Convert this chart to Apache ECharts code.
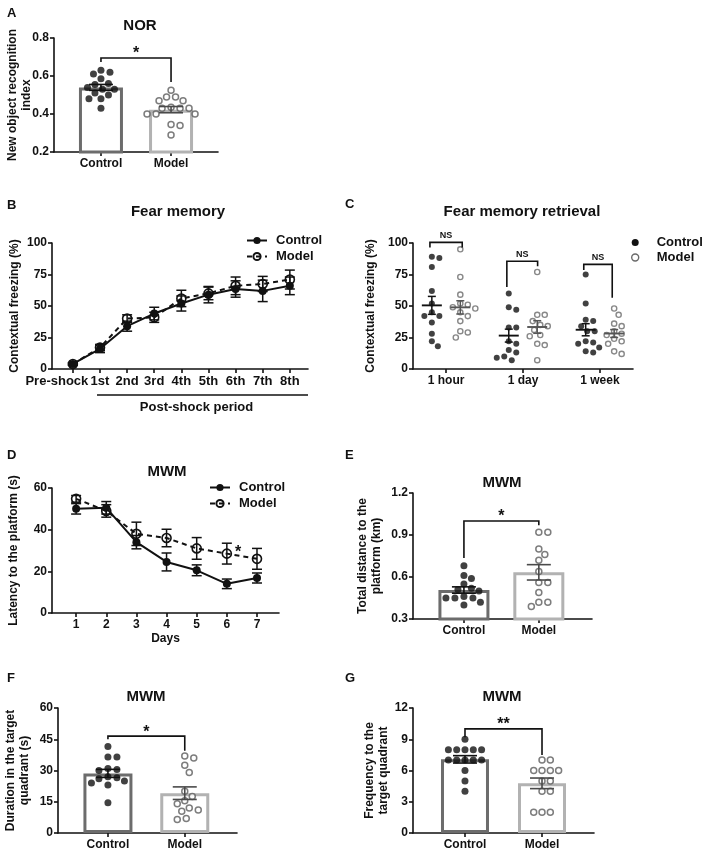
<!DOCTYPE html>
<html>
<head>
<meta charset="utf-8">
<script src="https://cdn.jsdelivr.net/npm/echarts@6.0.0/dist/echarts.min.js"></script>
<style>
  html, body { margin: 0; padding: 0; background: #fff; }
  #chart { width: 708px; height: 856px; }
</style>
</head>
<body>
<div id="chart"></div>
<script>
// ---- data ----
// A: novel object recognition
const groups = ['Control', 'Model'];
const norControl = [0.63, 0.62, 0.61, 0.585, 0.56, 0.555, 0.54, 0.53, 0.53, 0.51, 0.50, 0.48, 0.48, 0.43];
const norModel = [0.525, 0.49, 0.49, 0.47, 0.47, 0.435, 0.43, 0.43, 0.43, 0.40, 0.40, 0.40, 0.345, 0.34, 0.29];

// B: fear memory (mean, sem)
const fearPeriods = ['Pre-shock', '1st', '2nd', '3rd', '4th', '5th', '6th', '7th', '8th'];
const fearControl = [4, 16, 34, 44, 52, 59, 63.5, 62, 66];
const fearControlSem = [1, 3, 4, 5, 6, 6.5, 6.5, 8.5, 7];
const fearModel = [4, 17, 40, 41, 56, 60, 66, 67.5, 71];
const fearModelSem = [1, 2.5, 3, 4, 6.5, 5, 7, 6, 7.5];

// C: fear memory retrieval
const retrievalTimes = ['1 hour', '1 day', '1 week'];
const retHourControl = [88, 89, 81, 62, 52, 45, 42, 42, 37, 28, 22, 18];
const retHourModel = [95, 73, 59, 52, 51, 49, 48, 45, 42, 38, 30, 29, 25];
const retDayControl = [60, 49, 47, 33, 33, 22, 20, 15, 13, 10, 9, 7];
const retDayModel = [77, 43, 43, 38, 35, 34, 31, 27, 26, 20, 19, 7];
const retWeekControl = [75, 52, 39, 38, 34, 30, 30, 22, 21, 20, 17, 14, 13];
const retWeekModel = [48, 43, 36, 34, 30, 28, 27, 24, 22, 20, 14, 12];

// D: MWM latency (mean, sem)
const mwmDays = ['1', '2', '3', '4', '5', '6', '7'];
const latencyControl = [50, 50.5, 34, 24.5, 20.5, 14, 16.8];
const latencyControlSem = [2.5, 3, 3.2, 4.3, 2.6, 2.3, 2.4];
const latencyModel = [54.8, 49, 38, 36, 31, 28.5, 26];
const latencyModelSem = [1.6, 3, 5.6, 4.2, 5.2, 5, 5];

// E: total distance (km)
const distControl = [0.68, 0.61, 0.59, 0.55, 0.52, 0.51, 0.50, 0.46, 0.45, 0.45, 0.45, 0.42, 0.40];
const distModel = [0.92, 0.92, 0.80, 0.76, 0.72, 0.64, 0.56, 0.56, 0.49, 0.42, 0.42, 0.39];

// F: duration in target quadrant (s)
const durControl = [41.5, 36.5, 36.5, 31, 30.5, 30, 26, 27, 26.5, 25, 24, 23, 14.5];
const durModel = [37, 36, 32.5, 29, 20, 17.5, 15.5, 14, 12, 11, 10.5, 7, 6.5];

// G: frequency to target quadrant
const freqControl = [9, 8, 8, 8, 8, 8, 7, 7, 7, 7, 7, 6, 5, 4];
const freqModel = [7, 7, 6, 6, 6, 6, 5, 5, 4, 4, 2, 2, 2];

// ---- styling ----
const FONT = "'Liberation Sans', Arial, sans-serif";
const INK = '#111';
const CTRL_EDGE = '#6c6c6c';
const MODEL_EDGE = '#b2b2b2';
const MODEL_DOT = '#5c5c5c';

function mean(a) { return a.reduce((s, v) => s + v, 0) / a.length; }
function sem(a) {
  const m = mean(a);
  const sd = Math.sqrt(a.reduce((s, v) => s + (v - m) * (v - m), 0) / (a.length - 1));
  return sd / Math.sqrt(a.length);
}

// simple beeswarm: spread equal-ish values sideways so dots don't overlap
function swarm(values, center, pxX, pxY, diam, step) {
  const order = values.map((v, i) => i).sort((a, b) => values[b] - values[a]);
  const placed = [];
  const out = [];
  order.forEach(i => {
    const y = values[i] * pxY;
    for (let k = 0; k < 80; k++) {
      const off = k === 0 ? 0 : (k % 2 ? 1 : -1) * Math.ceil(k / 2) * step;
      if (placed.every(p => Math.hypot(p[0] - off, p[1] - y) >= diam)) {
        placed.push([off, y]);
        out.push([center + off / pxX, values[i]]);
        break;
      }
    }
  });
  return out;
}

// panel frames
const panels = {
  A: { grid: { left: 54, top: 38, width: 164, height: 114 }, x: [-0.67, 1.67], y: [0.2, 0.8, 0.2], yName: 'New object recognition\nindex', gap: 20, dec: 1 },
  B: { grid: { left: 52, top: 243, width: 256, height: 126 }, x: [-0.77, 8.67], y: [0, 100, 25], yName: 'Contextual freezing (%)', gap: 30, dec: 0 },
  C: { grid: { left: 413, top: 243, width: 220, height: 126 }, x: [-0.43, 2.43], y: [0, 100, 25], yName: 'Contextual freezing (%)', gap: 35, dec: 0 },
  D: { grid: { left: 52, top: 488, width: 227, height: 125 }, x: [0.2, 7.73], y: [0, 60, 20], yName: 'Latency to the platform (s)', gap: 31, dec: 0 },
  E: { grid: { left: 413, top: 493, width: 179, height: 126 }, x: [-0.68, 1.71], y: [0.3, 1.2, 0.3], yName: 'Total distance to the\nplatform (km)', gap: 29, dec: 1 },
  F: { grid: { left: 58, top: 708, width: 179, height: 125 }, x: [-0.65, 1.68], y: [0, 60, 15], yName: 'Duration in the target\nquadrant (s)', gap: 26, dec: 0 },
  G: { grid: { left: 413, top: 708, width: 181, height: 125 }, x: [-0.675, 1.675], y: [0, 12, 3], yName: 'Frequency to the\ntarget quadrant', gap: 22, dec: 0 }
};

const grid = [], xAxis = [], yAxis = [], series = [];
const lineStyle = { color: INK, width: 1.6 };
const labelFont = { color: INK, fontFamily: FONT, fontWeight: 'bold', fontSize: 12 };

function addPanel(key, tickLabels, tickPos, opts) {
  const p = panels[key];
  const gi = grid.length;
  p.gi = gi;
  p.pxX = p.grid.width / (p.x[1] - p.x[0]);
  p.pxY = p.grid.height / (p.y[1] - p.y[0]);
  grid.push(p.grid);
  xAxis.push({
    type: 'value', gridIndex: gi, min: p.x[0], max: p.x[1],
    axisLine: { show: true, onZero: false, lineStyle },
    axisTick: { show: true, length: 4, lineStyle, customValues: tickPos },
    axisLabel: Object.assign({ margin: 6, customValues: tickPos, showMinLabel: true, showMaxLabel: true,
      formatter: v => {
        const i = tickPos.findIndex(t => Math.abs(t - v) < 1e-6);
        if (i < 0) return '';
        return opts.firstShift && i === 0 ? '{shift|' + tickLabels[i] + '}' : tickLabels[i];
      },
      rich: { shift: Object.assign({}, labelFont, { fontSize: opts.xFont || 12, padding: [0, opts.firstShift || 0, 0, 0] }) }
    }, labelFont, { fontSize: opts.xFont || 12 }),
    splitLine: { show: false },
    name: opts.xName || '', nameLocation: 'middle', nameGap: 20, nameMoveOverlap: false,
    nameTextStyle: { color: INK, fontFamily: FONT, fontWeight: 'bold', fontSize: 12 }
  });
  yAxis.push({
    type: 'value', gridIndex: gi, min: p.y[0], max: p.y[1], interval: p.y[2],
    axisLine: { show: true, onZero: false, lineStyle },
    axisTick: { show: true, length: 4, lineStyle },
    axisLabel: Object.assign({ margin: 5, formatter: v => v.toFixed(p.dec) }, labelFont),
    splitLine: { show: false },
    name: p.yName, nameLocation: 'middle', nameRotate: 90, nameGap: p.gap, nameMoveOverlap: false,
    nameTextStyle: { color: INK, fontFamily: FONT, fontWeight: 'bold', fontSize: 12, lineHeight: 14 }
  });
  return p;
}

function errorBars(p, items, color, cap, meanHalf, lw, z) {
  return {
    type: 'custom', xAxisIndex: p.gi, yAxisIndex: p.gi, z: z, silent: true, data: items,
    renderItem(params, api) {
      const x = api.value(0), m = api.value(1), s = api.value(2);
      const t = api.coord([x, m + s]), b = api.coord([x, m - s]), c = api.coord([x, m]);
      const st = { stroke: color, lineWidth: lw };
      const ch = [
        { type: 'line', shape: { x1: t[0], y1: t[1], x2: b[0], y2: b[1] }, style: st },
        { type: 'line', shape: { x1: t[0] - cap, y1: t[1], x2: t[0] + cap, y2: t[1] }, style: st },
        { type: 'line', shape: { x1: b[0] - cap, y1: b[1], x2: b[0] + cap, y2: b[1] }, style: st }
      ];
      if (meanHalf) ch.push({ type: 'line', shape: { x1: c[0] - meanHalf, y1: c[1], x2: c[0] + meanHalf, y2: c[1] }, style: { stroke: color, lineWidth: lw + 0.4 } });
      return { type: 'group', children: ch };
    }
  };
}

// significance brackets: x-from, x-to, top, left leg end, right leg end (data units)
function bracketSeries(p, items, texts, fontSize) {
  return {
    type: 'custom', xAxisIndex: p.gi, yAxisIndex: p.gi, z: 6, silent: true, data: items,
    renderItem(params, api) {
      const a = api.coord([api.value(0), api.value(3)]);
      const b = api.coord([api.value(0), api.value(2)]);
      const c = api.coord([api.value(1), api.value(2)]);
      const d = api.coord([api.value(1), api.value(4)]);
      const txt = texts[params.dataIndex];
      const star = txt.indexOf('*') >= 0;
      return { type: 'group', children: [
        { type: 'polyline', shape: { points: [a, b, c, d] }, style: { stroke: INK, lineWidth: 1.6, fill: null } },
        { type: 'text', x: (b[0] + c[0]) / 2, y: star ? b[1] - fontSize * 0.75 : b[1] - 2,
          style: { text: txt, align: 'center', verticalAlign: star ? 'top' : 'bottom', fill: INK,
                   font: 'bold ' + fontSize + 'px ' + FONT } }
      ] };
    }
  };
}

function barPanel(key, ctrl, model, barW, diam, step) {
  const p = panels[key];
  series.push({
    type: 'bar', xAxisIndex: p.gi, yAxisIndex: p.gi, barWidth: barW, z: 1, silent: true,
    data: [
      { value: [0, mean(ctrl)], itemStyle: { color: '#fff', borderColor: CTRL_EDGE, borderWidth: 3 } },
      { value: [1, mean(model)], itemStyle: { color: '#fff', borderColor: MODEL_EDGE, borderWidth: 3 } }
    ]
  });
  series.push({
    type: 'scatter', xAxisIndex: p.gi, yAxisIndex: p.gi, z: 3, silent: true, symbolSize: 7,
    itemStyle: { color: INK }, data: swarm(ctrl, 0, p.pxX, p.pxY, diam, step)
  });
  series.push({
    type: 'scatter', xAxisIndex: p.gi, yAxisIndex: p.gi, z: 3, silent: true, symbolSize: 6,
    itemStyle: { color: '#fff', borderColor: MODEL_DOT, borderWidth: 1.5 }, data: swarm(model, 1, p.pxX, p.pxY, diam, step)
  });
  series.push(errorBars(p, [[0, mean(ctrl), sem(ctrl)]], INK, 12, 0, 1.6, 4));
  series.push(errorBars(p, [[1, mean(model), sem(model)]], '#4a4a4a', 12, 0, 1.6, 4));
}

// ---- panels ----
addPanel('A', groups, [0, 1], {});
addPanel('B', fearPeriods, fearPeriods.map((c, i) => i), { xFont: 13, firstShift: 32 });
addPanel('C', retrievalTimes, [0, 1, 2], {});
addPanel('D', mwmDays, mwmDays.map(Number), { xName: 'Days' });
addPanel('E', groups, [0, 1], {});
addPanel('F', groups, [0, 1], {});
addPanel('G', groups, [0, 1], {});

// line panels first so that legends pick these icons
function linePair(p, xs, ctrl, ctrlSem, model, modelSem) {
  series.push({
    type: 'line', name: 'Control', xAxisIndex: p.gi, yAxisIndex: p.gi, z: 5,
    data: ctrl.map((v, i) => [xs[i], v]), symbol: 'circle', symbolSize: 8,
    lineStyle: { color: INK, width: 2 }, itemStyle: { color: INK }
  });
  series.push({
    type: 'line', name: 'Model', xAxisIndex: p.gi, yAxisIndex: p.gi, z: 4,
    data: model.map((v, i) => [xs[i], v]), symbol: 'circle', symbolSize: 9,
    lineStyle: { color: INK, width: 2, type: [5, 4] },
    itemStyle: { color: 'rgba(255,255,255,0)', borderColor: INK, borderWidth: 1.6 }
  });
  series.push(errorBars(p, ctrl.map((v, i) => [xs[i], v, ctrlSem[i]]), INK, 5, 0, 1.5, 3));
  series.push(errorBars(p, model.map((v, i) => [xs[i], v, modelSem[i]]), INK, 5, 0, 1.5, 3));
}
linePair(panels.B, fearPeriods.map((c, i) => i), fearControl, fearControlSem, fearModel, fearModelSem);
linePair(panels.D, mwmDays.map(Number), latencyControl, latencyControlSem, latencyModel, latencyModelSem);

// C: scatter dot plot
(function () {
  const p = panels.C;
  const ctrlSets = [retHourControl, retDayControl, retWeekControl];
  const modelSets = [retHourModel, retDayModel, retWeekModel];
  const off = 0.185;
  let cPts = [], mPts = [];
  ctrlSets.forEach((s, g) => { cPts = cPts.concat(swarm(s, g - off, p.pxX, p.pxY, 7.5, 1.5)); });
  modelSets.forEach((s, g) => { mPts = mPts.concat(swarm(s, g + off, p.pxX, p.pxY, 7.5, 1.5)); });
  series.push({ type: 'scatter', name: 'Control', xAxisIndex: p.gi, yAxisIndex: p.gi, z: 3, symbolSize: 6,
    itemStyle: { color: INK }, data: cPts });
  series.push({ type: 'scatter', name: 'Model', xAxisIndex: p.gi, yAxisIndex: p.gi, z: 3, symbolSize: 5.2,
    itemStyle: { color: '#fff', borderColor: '#6a6a6a', borderWidth: 1.4 }, data: mPts });
  series.push(errorBars(p, ctrlSets.map((s, g) => [g - off, mean(s), sem(s)]), INK, 4, 10, 1.5, 4));
  series.push(errorBars(p, modelSets.map((s, g) => [g + off, mean(s), sem(s)]), '#555', 4, 10, 1.5, 4));
  series.push(bracketSeries(p, [
    [-0.21, 0.21, 100.5, 96.5, 96.5],
    [0.79, 1.19, 85.5, 65, 81.5],
    [1.79, 2.16, 83, 78.5, 56.5]
  ], ['NS', 'NS', 'NS'], 9));
})();

barPanel('A', norControl, norModel, 44, 8, 1.5);
barPanel('E', distControl, distModel, 51, 8, 1.5);
barPanel('F', durControl, durModel, 49, 8, 1.5);
barPanel('G', freqControl, freqModel, 48, 8.3, 4.15);

series.push(bracketSeries(panels.A, [[0, 1, 0.695, 0.674, 0.568]], ['*'], 16));
series.push(bracketSeries(panels.E, [[0, 1, 1.0, 0.735, 0.97]], ['*'], 16));
series.push(bracketSeries(panels.F, [[0, 1, 46.5, 45, 39.5]], ['*'], 16));
series.push(bracketSeries(panels.G, [[0, 1, 10, 9.2, 7.5]], ['**'], 16));

// D: star next to day 6, B: post-shock period bar under the axis
series.push({
  type: 'custom', xAxisIndex: panels.D.gi, yAxisIndex: panels.D.gi, z: 6, silent: true, data: [[6.37, 31]],
  renderItem(params, api) {
    const c = api.coord([api.value(0), api.value(1)]);
    return { type: 'text', x: c[0], y: c[1] - 4, style: { text: '*', align: 'center', verticalAlign: 'top', fill: INK, font: 'bold 16px ' + FONT } };
  }
});
series.push({
  type: 'custom', xAxisIndex: panels.B.gi, yAxisIndex: panels.B.gi, z: 6, silent: true, data: [[0.89, 8.67]],
  renderItem(params, api) {
    const a = api.coord([api.value(0), 0]), b = api.coord([api.value(1), 0]);
    const y = a[1] + 26;
    return { type: 'group', children: [
      { type: 'line', shape: { x1: a[0], y1: y, x2: b[0], y2: y }, style: { stroke: INK, lineWidth: 1.6 } },
      { type: 'text', x: (a[0] + b[0]) / 2 - 6, y: y + 6, style: { text: 'Post-shock period', align: 'center', verticalAlign: 'top', fill: INK, font: 'bold 13px ' + FONT } }
    ] };
  }
});

const legendText = { color: INK, fontFamily: FONT, fontWeight: 'bold', fontSize: 13, padding: [0, 0, 0, 4] };
const legend = [
  { left: 241, top: 229, orient: 'vertical', itemWidth: 20, itemHeight: 9, itemGap: 3, selectedMode: false,
    data: ['Control', 'Model'], textStyle: legendText },
  { left: 204, top: 476, orient: 'vertical', itemWidth: 20, itemHeight: 9, itemGap: 3, selectedMode: false,
    data: ['Control', 'Model'], textStyle: legendText },
  { left: 626, top: 231, orient: 'vertical', itemWidth: 7, itemHeight: 7, itemGap: 2, selectedMode: false,
    data: [
      { name: 'Control', icon: 'circle', itemStyle: { color: INK, borderWidth: 0 } },
      { name: 'Model', icon: 'circle', itemStyle: { color: '#fff', borderColor: '#6a6a6a', borderWidth: 1.4 } }
    ],
    textStyle: Object.assign({}, legendText, { padding: [0, 0, 0, 13] }) }
];

function txt(x, y, text, size, align) {
  return { type: 'text', x: x, y: y, style: { text: text, align: align || 'center', verticalAlign: 'middle', fill: INK, font: 'bold ' + size + 'px ' + FONT } };
}
const graphic = [
  txt(7, 13, 'A', 13, 'left'), txt(7, 205, 'B', 13, 'left'), txt(345, 204, 'C', 13, 'left'),
  txt(7, 455, 'D', 13, 'left'), txt(345, 455, 'E', 13, 'left'), txt(7, 678, 'F', 13, 'left'), txt(345, 678, 'G', 13, 'left'),
  txt(140, 26, 'NOR', 15), txt(178, 212, 'Fear memory', 15), txt(522, 212, 'Fear memory retrieval', 15),
  txt(167, 472, 'MWM', 15), txt(502, 483, 'MWM', 15), txt(146, 697, 'MWM', 15), txt(502, 697, 'MWM', 15)
];

const chart = echarts.init(document.getElementById('chart'), null, { renderer: 'canvas' });
chart.setOption({
  animation: false,
  backgroundColor: '#fff',
  grid, xAxis, yAxis, series, legend, graphic
});
</script>
</body>
</html>
